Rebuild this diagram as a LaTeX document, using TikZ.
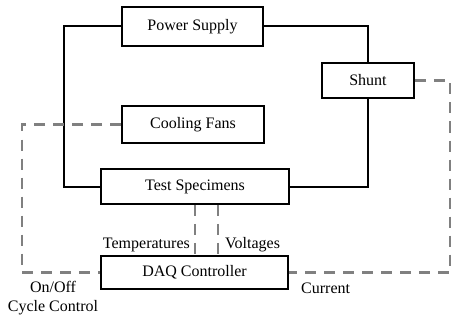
\documentclass[tikz,border=0pt]{standalone}
\usepackage{fontspec}
\setmainfont{Liberation Serif}
\usetikzlibrary{positioning}

\begin{document}
\begin{tikzpicture}
  [
  x=1pt, y=-1pt,
  font=\fontsize{16}{19}\selectfont,
  blockbox/.style={draw, line width=1.6pt, inner sep=0pt, align=center},
  wire/.style={draw, line width=2pt},
  signal/.style={draw, gray, line width=2.4pt, dash pattern=on 11pt off 8pt}
  ]
  \useasboundingbox (0,0) rectangle (453,321);
  \node[blockbox, minimum width=141pt, minimum height=39pt] (ps) at (192.5,26.5) {Power Supply};
  \node[blockbox, minimum width=92pt, minimum height=35pt] (shunt) at (368,80.5) {Shunt};
  \node[blockbox, minimum width=142pt, minimum height=37pt] (fans) at (193,124.5) {Cooling Fans};
  \node[blockbox, minimum width=188pt, minimum height=35pt] (spec) at (195,186.5) {Test Specimens};
  \node[blockbox, minimum width=187pt, minimum height=33pt] (daq) at (194.5,272.5) {DAQ Controller};
  % power loop
  \draw[wire] (ps.west) -- ++(-57,0) |- (spec.west);
  \draw[wire] (ps.east) -| (shunt.north);
  \draw[wire] (shunt.south) |- (spec.east);
  % measurement and control lines
  \draw[signal] (fans.west) -- ++(-99,0) |- (daq.west);
  \draw[signal] (shunt.east) -- ++(35,0) |- (daq.east);
  \draw[signal] (spec.south) -- (spec.south |- daq.north);
  \draw[signal] ([xshift=23pt]spec.south) -- ([xshift=23pt]spec.south |- daq.north);
  \node[anchor=east, inner sep=0pt] (temps) at (190,245) {Temperatures};
  \node[anchor=west, inner sep=0pt] (volts) at (225,245) {Voltages};
  \node[align=center, inner sep=0pt] (onoff) at (53,298) {On/Off\\Cycle Control};
  \node[anchor=west, inner sep=0pt] (amps) at (301,288) {Current};
\end{tikzpicture}
\end{document}
